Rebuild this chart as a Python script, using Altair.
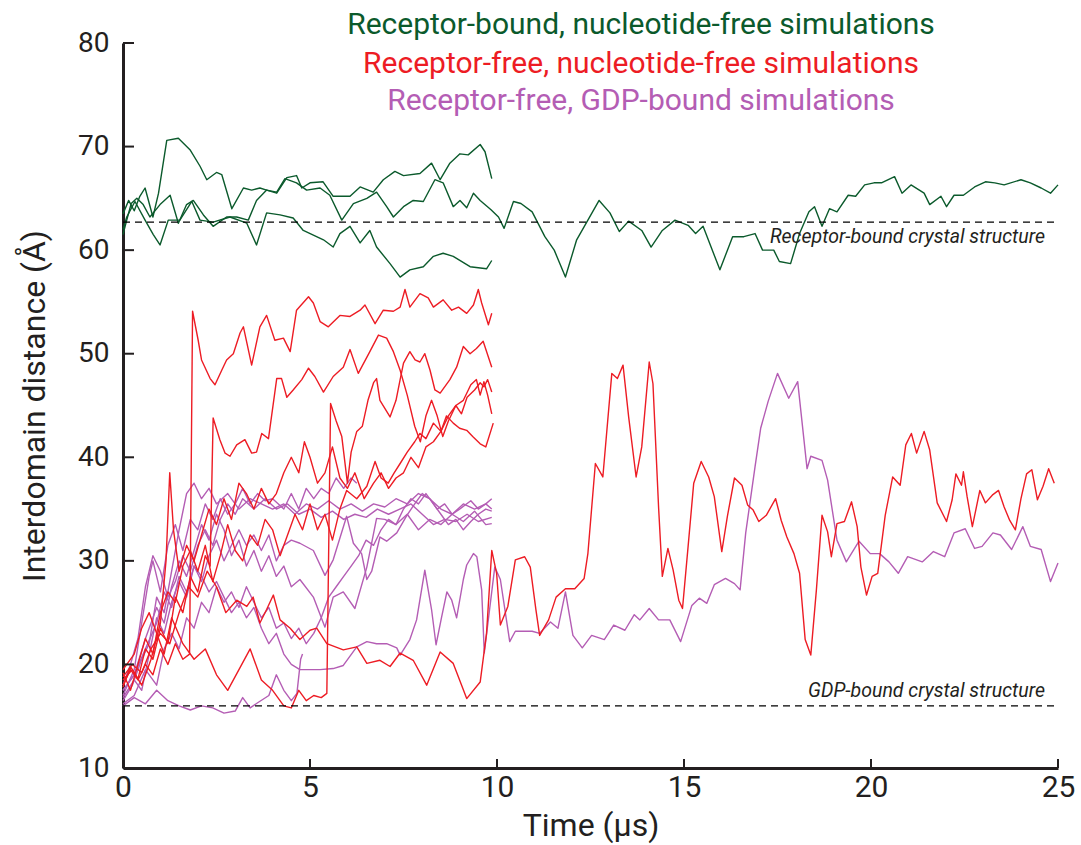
import altair as alt
import pandas as pd

# ---------------- data (time in microseconds, distance in Angstrom) ----------------
TICK_X = [0, 5, 10, 15, 20, 25]
TICK_Y = [10, 20, 30, 40, 50, 60, 70, 80]
CRYSTAL_RECEPTOR = 62.7
CRYSTAL_GDP = 16.0

GROUPS = ["Receptor-bound, nucleotide-free simulations",
          "Receptor-free, nucleotide-free simulations",
          "Receptor-free, GDP-bound simulations"]
COLORS = ["#0b5a2c", "#ed1c24", "#b45db4"]

# Receptor-bound (green)
G_PEAK = [(0, 63.5), (0.15, 64.8), (0.3, 63.8), (0.45, 65.2), (0.59, 66.0), (0.8, 63.2), (0.95, 65.5),
          (1.17, 70.6), (1.48, 70.8), (1.79, 69.7), (2.06, 68.1), (2.24, 66.8), (2.5, 67.5), (2.64, 67.3),
          (2.91, 64.0), (3.22, 66.0), (3.44, 65.8), (3.66, 66.0), (3.84, 65.8), (4.11, 65.5), (4.38, 67.0),
          (4.64, 67.2), (4.78, 66.0), (5.0, 66.5), (5.35, 66.6), (5.62, 65.2), (6.07, 65.2), (6.34, 66.1),
          (6.69, 65.6), (6.96, 66.8), (7.27, 67.6), (7.5, 67.2), (7.94, 67.4), (8.25, 68.4), (8.48, 66.8),
          (8.74, 68.4), (9.01, 69.3), (9.23, 69.2), (9.55, 70.2), (9.68, 69.5), (9.86, 66.9)]
G_LONG = [(0, 61.5), (0.1, 62.9), (0.22, 64.5), (0.37, 65.0), (0.54, 64.4), (0.72, 63.2), (0.99, 64.4),
          (1.26, 65.3), (1.48, 62.6), (1.7, 64.4), (1.88, 64.8), (2.15, 63.4), (2.41, 62.3), (2.77, 63.2),
          (3.04, 63.2), (3.35, 62.9), (3.57, 64.8), (3.84, 65.8), (4.11, 65.6), (4.33, 66.9), (4.64, 66.5),
          (4.91, 65.8), (5.27, 66.0), (5.53, 65.3), (5.85, 62.9), (6.16, 64.5), (6.52, 65.0), (6.78, 65.6),
          (7.05, 64.2), (7.23, 63.2), (7.5, 64.2), (7.76, 64.8), (8.03, 64.7), (8.34, 66.8), (8.56, 66.5),
          (8.83, 64.2), (9.01, 64.8), (9.19, 64.1), (9.37, 65.5), (9.55, 64.8), (9.84, 63.9), (10.04, 63.2),
          (10.19, 62.1), (10.44, 64.7), (10.64, 64.5), (10.94, 63.7), (11.28, 61.3), (11.53, 60.0),
          (11.83, 57.4), (12.13, 61.0), (12.43, 62.9), (12.73, 64.8), (13.02, 63.6), (13.27, 61.8),
          (13.52, 62.8), (13.87, 61.9), (14.12, 60.3), (14.42, 61.9), (14.76, 62.9), (15.11, 62.4),
          (15.31, 61.6), (15.51, 62.3), (15.96, 58.1), (16.3, 61.3), (16.6, 61.3), (16.9, 61.6),
          (17.1, 60.0), (17.4, 60.0), (17.55, 58.9), (17.85, 58.7), (18.09, 61.6), (18.34, 63.7),
          (18.49, 64.2), (18.69, 62.3), (18.89, 64.0), (19.09, 63.7), (19.39, 65.3), (19.59, 65.2),
          (19.83, 66.3), (20.08, 66.5), (20.28, 66.5), (20.63, 67.1), (20.83, 65.5), (21.07, 66.3),
          (21.42, 65.5), (21.57, 64.4), (21.87, 65.2), (22.02, 64.2), (22.22, 65.3), (22.47, 65.3),
          (22.77, 66.1), (23.06, 66.6), (23.31, 66.5), (23.56, 66.3), (24.01, 66.8), (24.26, 66.5),
          (24.55, 66.0), (24.8, 65.5), (25.0, 66.3)]
G_LOW = [(0, 62.0), (0.1, 63.2), (0.32, 64.7), (0.59, 62.9), (0.81, 61.5), (0.99, 60.5), (1.21, 62.9),
         (1.52, 62.9), (1.84, 64.7), (2.06, 62.9), (2.41, 62.7), (2.86, 63.2), (3.31, 62.6), (3.57, 60.5),
         (3.84, 63.6), (4.2, 63.4), (4.55, 63.1), (4.82, 61.9), (5.36, 61.0), (5.62, 60.3), (5.8, 61.6),
         (6.07, 62.3), (6.34, 60.7), (6.6, 61.9), (6.78, 60.3), (7.14, 58.7), (7.41, 57.4), (7.67, 58.1),
         (8.03, 58.4), (8.3, 59.4), (8.56, 59.7), (8.83, 59.4), (9.28, 58.4), (9.72, 58.2), (9.86, 59.0)]

# Receptor-free, nucleotide-free (red)
R_LONG = [(0, 18.8), (0.25, 20.0), (0.5, 19.2), (0.75, 21.5), (1.0, 23.0), (1.25, 22.0), (1.5, 25.0),
          (1.75, 27.5), (2.0, 26.5), (2.25, 29.0), (2.5, 27.5), (2.75, 25.0), (3.04, 26.2), (3.31, 25.6),
          (3.48, 26.5), (3.66, 24.0), (3.84, 25.3), (4.02, 26.7), (4.2, 24.3), (4.47, 23.5), (4.73, 22.4),
          (5.0, 23.3), (5.18, 23.5), (5.45, 22.0), (5.89, 21.4), (6.25, 21.7), (6.52, 20.1), (6.87, 20.4),
          (7.14, 19.8), (7.41, 21.1), (7.76, 20.4), (8.12, 18.0), (8.48, 21.2), (8.83, 20.1), (9.19, 16.7),
          (9.55, 18.3), (9.72, 23.0), (9.86, 31.0), (9.99, 28.8), (10.09, 23.8), (10.29, 25.6),
          (10.49, 30.1), (10.74, 30.4), (10.89, 29.4), (11.04, 25.3), (11.14, 22.8), (11.38, 24.3),
          (11.58, 26.5), (11.83, 27.3), (12.08, 27.3), (12.33, 28.3), (12.43, 30.7), (12.63, 39.4),
          (12.83, 38.1), (13.07, 48.1), (13.22, 47.6), (13.37, 48.9), (13.52, 43.9), (13.72, 38.1),
          (13.87, 41.0), (14.07, 49.2), (14.17, 47.1), (14.32, 35.2), (14.42, 28.5), (14.57, 31.2),
          (14.71, 29.1), (14.86, 26.2), (14.96, 25.4), (15.11, 31.4), (15.26, 37.5), (15.46, 39.6),
          (15.66, 38.1), (15.81, 36.2), (16.01, 30.9), (16.16, 34.3), (16.35, 38.0), (16.55, 37.3),
          (16.7, 35.4), (16.85, 34.9), (17.0, 33.8), (17.2, 34.4), (17.45, 36.0), (17.6, 33.9),
          (17.75, 32.3), (17.94, 30.7), (18.09, 28.8), (18.24, 22.4), (18.39, 20.9), (18.54, 27.2),
          (18.69, 34.4), (18.84, 32.8), (18.94, 30.4), (19.09, 33.6), (19.29, 33.8), (19.48, 35.7),
          (19.63, 33.3), (19.73, 29.4), (19.88, 26.7), (20.03, 28.5), (20.18, 28.8), (20.38, 34.4),
          (20.58, 38.1), (20.78, 37.3), (20.93, 41.2), (21.08, 42.3), (21.22, 40.4), (21.42, 42.5),
          (21.57, 40.7), (21.77, 35.6), (22.02, 33.8), (22.17, 35.9), (22.27, 38.4), (22.42, 37.3),
          (22.47, 38.6), (22.57, 36.2), (22.71, 33.3), (22.91, 36.8), (23.06, 35.6), (23.26, 36.4),
          (23.41, 36.8), (23.56, 35.2), (23.71, 33.9), (23.86, 33.0), (24.01, 36.0), (24.16, 38.4),
          (24.3, 38.8), (24.45, 35.9), (24.6, 37.2), (24.75, 38.9), (24.9, 37.5)]
R_TOP = [(0, 18.0), (0.2, 19.5), (0.4, 18.5), (0.6, 20.0), (0.8, 19.0), (1.0, 21.5), (1.2, 20.0), (1.4, 22.0),
         (1.6, 20.5), (1.78, 21.0), (1.86, 54.1), (2.01, 51.3), (2.1, 49.4), (2.33, 47.6), (2.46, 47.0),
         (2.64, 48.4), (2.77, 49.4), (2.95, 50.0), (3.13, 52.0), (3.22, 52.6), (3.44, 48.9), (3.66, 52.6),
         (3.84, 53.7), (4.06, 51.3), (4.29, 51.5), (4.47, 50.2), (4.64, 54.2), (4.96, 55.5), (5.09, 54.9),
         (5.27, 53.1), (5.49, 52.6), (5.8, 53.7), (6.07, 53.6), (6.34, 54.2), (6.47, 54.7), (6.74, 52.9),
         (6.96, 54.2), (7.23, 54.1), (7.41, 54.5), (7.54, 56.2), (7.67, 54.5), (7.94, 55.8), (8.16, 55.4),
         (8.3, 54.5), (8.56, 55.2), (8.79, 54.2), (8.97, 54.5), (9.19, 53.9), (9.37, 54.7), (9.5, 56.2),
         (9.59, 54.9), (9.77, 52.8), (9.86, 53.9)]
R_SECOND = [(0, 17.8), (0.2, 19.8), (0.4, 18.6), (0.6, 21.5), (0.8, 20.5), (1.0, 23.5), (1.2, 22.0),
            (1.4, 26.5), (1.6, 25.0), (1.8, 28.5), (2.0, 27.0), (2.2, 30.5), (2.33, 29.5), (2.41, 43.8),
            (2.59, 41.7), (2.73, 40.4), (2.86, 40.1), (3.04, 41.2), (3.26, 41.7), (3.44, 40.4), (3.57, 40.5),
            (3.71, 42.3), (3.89, 41.8), (4.11, 47.6), (4.24, 47.6), (4.38, 45.8), (4.55, 46.5), (4.78, 47.5),
            (4.96, 48.6), (5.13, 47.8), (5.36, 46.3), (5.62, 47.8), (5.89, 48.7), (6.07, 50.4), (6.29, 48.1),
            (6.6, 50.2), (6.83, 51.8), (7.05, 51.5), (7.23, 50.2), (7.41, 48.4), (7.6, 46.0), (7.8, 43.0),
            (7.95, 41.5), (8.1, 44.0), (8.25, 45.5), (8.4, 44.0), (8.55, 42.0), (8.7, 43.5), (8.9, 45.0),
            (9.05, 44.2), (9.2, 45.8), (9.4, 46.5), (9.55, 47.2), (9.65, 46.8), (9.75, 47.5), (9.86, 46.3)]
R_JUMP = [(0, 19.5), (0.3, 21.0), (0.5, 23.5), (0.7, 25.0), (0.9, 23.0), (1.1, 21.0), (1.3, 24.5), (1.6, 22.0),
          (1.9, 20.5), (2.2, 21.5), (2.5, 19.0), (2.8, 17.5), (3.1, 19.5), (3.4, 21.5), (3.7, 18.5), (4.0, 17.5),
          (4.3, 16.0), (4.5, 15.8), (4.7, 17.5), (4.9, 16.5), (5.1, 17.0), (5.3, 16.8), (5.45, 17.2),
          (5.55, 45.2), (5.7, 43.5), (5.85, 42.0), (6.0, 37.5), (6.1, 40.5), (6.25, 42.5), (6.4, 43.0),
          (6.55, 45.5), (6.7, 47.2), (6.78, 47.6), (6.87, 45.5), (7.14, 43.9), (7.3, 45.5), (7.41, 47.5),
          (7.5, 49.1), (7.67, 50.2), (7.81, 49.4), (7.94, 49.2), (8.07, 50.0), (8.21, 48.4), (8.34, 46.5),
          (8.48, 46.2), (8.74, 47.5), (8.92, 48.7), (9.1, 50.7), (9.28, 50.0), (9.45, 50.5), (9.63, 51.2),
          (9.86, 48.7)]
R_MID = [(0, 18.5), (0.25, 19.5), (0.5, 18.0), (0.75, 20.5), (1.0, 24.0), (1.15, 30.0), (1.25, 38.5),
         (1.35, 33.0), (1.5, 29.0), (1.7, 31.5), (1.9, 30.0), (2.1, 32.5), (2.3, 35.0), (2.5, 33.5), (2.7, 36.0),
         (2.9, 34.0), (3.1, 37.5), (3.3, 36.5), (3.5, 35.0), (3.7, 37.0), (3.9, 35.5), (4.1, 36.5), (4.3, 38.5),
         (4.5, 40.0), (4.7, 38.5), (4.85, 41.5), (5.0, 40.0), (5.2, 37.5), (5.4, 38.5), (5.6, 41.0), (5.8, 38.0),
         (6.0, 37.0), (6.2, 38.5), (6.45, 36.0), (6.7, 37.5), (6.9, 38.5), (7.1, 37.0), (7.3, 38.0), (7.5, 38.5),
         (7.7, 40.0), (7.9, 39.0), (8.1, 41.0), (8.3, 41.5), (8.5, 42.5), (8.7, 44.0), (8.9, 45.0), (9.1, 45.5),
         (9.3, 47.0), (9.45, 47.5), (9.55, 46.0), (9.65, 47.3), (9.75, 46.0), (9.86, 44.2)]
R_LOWER = [(0, 19.2), (0.2, 17.5), (0.4, 20.0), (0.6, 22.5), (0.8, 21.0), (1.0, 25.0), (1.2, 27.0), (1.4, 26.0),
           (1.6, 29.5), (1.8, 31.0), (2.0, 29.0), (2.2, 31.5), (2.4, 28.0), (2.6, 30.5), (2.8, 33.5), (3.0, 31.0),
           (3.2, 30.0), (3.4, 32.5), (3.6, 31.5), (3.8, 34.0), (4.0, 33.0), (4.2, 30.5), (4.4, 32.5), (4.6, 34.5),
           (4.8, 33.0), (5.0, 35.5), (5.2, 33.0), (5.4, 34.5), (5.6, 32.0), (5.8, 35.0), (5.98, 36.8),
           (6.25, 36.0), (6.52, 37.2), (6.74, 39.6), (6.9, 38.0), (7.09, 37.5), (7.25, 38.5), (7.41, 39.4),
           (7.6, 40.5), (7.8, 41.5), (7.94, 42.3), (8.1, 41.8), (8.3, 43.3), (8.5, 42.5), (8.65, 44.0),
           (8.83, 43.3), (9.0, 42.8), (9.19, 42.6), (9.35, 42.0), (9.55, 41.3), (9.7, 41.0), (9.9, 43.3)]

# Receptor-free, GDP-bound (purple)
P_LONG = [(0, 17.5), (0.3, 19.0), (0.6, 21.5), (0.9, 24.0), (1.1, 27.0), (1.3, 25.5), (1.5, 28.5), (1.7, 27.0),
          (1.9, 29.5), (2.1, 28.5), (2.3, 27.0), (2.5, 28.0), (2.7, 26.5), (2.9, 25.0), (3.1, 26.0), (3.3, 24.5),
          (3.5, 25.5), (3.7, 23.5), (3.9, 22.0), (4.1, 23.0), (4.3, 21.0), (4.5, 20.0), (4.73, 19.5),
          (5.27, 19.5), (5.62, 19.6), (5.89, 19.9), (6.07, 20.8), (6.25, 21.7), (6.52, 22.2), (6.78, 22.0),
          (7.05, 22.0), (7.32, 21.6), (7.41, 20.9), (7.67, 22.4), (7.85, 24.3), (8.07, 29.1), (8.25, 25.3),
          (8.37, 21.9), (8.52, 24.6), (8.66, 27.0), (8.79, 26.2), (8.92, 24.5), (9.1, 28.2), (9.19, 29.6),
          (9.37, 30.7), (9.46, 30.4), (9.59, 27.2), (9.66, 21.1), (9.94, 29.4), (10.09, 28.2), (10.34, 22.2),
          (10.49, 23.2), (10.94, 23.2), (11.14, 23.0), (11.43, 24.1), (11.63, 23.5), (11.83, 27.0),
          (12.03, 22.8), (12.28, 21.6), (12.53, 22.8), (12.87, 22.4), (13.12, 23.8), (13.42, 23.3),
          (13.67, 24.8), (13.82, 24.3), (14.07, 25.4), (14.32, 24.3), (14.62, 24.3), (14.91, 22.2),
          (15.21, 25.7), (15.41, 26.4), (15.61, 25.9), (15.81, 27.7), (16.11, 28.3), (16.35, 27.8),
          (16.5, 27.2), (16.65, 32.7), (16.9, 39.1), (17.05, 42.8), (17.25, 45.4), (17.5, 48.1), (17.8, 45.7),
          (18.04, 47.3), (18.29, 38.9), (18.39, 40.1), (18.69, 39.7), (18.84, 37.8), (19.09, 32.0),
          (19.34, 29.9), (19.68, 31.9), (19.98, 30.7), (20.23, 30.7), (20.48, 29.9), (20.73, 28.8),
          (20.98, 30.4), (21.37, 29.9), (21.67, 30.9), (21.97, 30.4), (22.22, 32.7), (22.52, 33.1),
          (22.77, 31.2), (22.97, 31.4), (23.26, 32.7), (23.46, 32.5), (23.76, 31.1), (24.06, 33.3),
          (24.26, 31.4), (24.55, 31.1), (24.8, 28.0), (25.0, 29.8)]
P_FLAT = [(0, 16.0), (0.3, 16.8), (0.6, 16.2), (0.9, 17.5), (1.2, 16.5), (1.5, 16.0), (1.8, 15.6), (2.1, 16.0),
          (2.4, 15.8), (2.7, 15.3), (3.0, 15.5), (3.2, 16.8), (3.4, 15.8), (3.6, 16.3), (3.9, 17.0), (4.1, 19.0),
          (4.3, 17.5), (4.5, 16.5), (4.65, 17.2), (4.75, 20.5), (4.8, 21.0)]
P_SHORT = [(0, 17.0), (0.3, 19.5), (0.5, 24.0), (0.7, 28.5), (0.8, 30.0), (1.0, 27.0), (1.2, 31.5), (1.4, 33.5),
           (1.6, 31.0), (1.8, 34.0), (2.0, 33.0), (2.2, 35.5), (2.4, 34.0), (2.6, 36.0), (2.8, 34.5), (3.0, 35.5),
           (3.2, 37.0), (3.4, 35.5), (3.6, 36.5), (3.8, 35.8), (4.0, 36.0), (4.3, 35.0), (4.5, 36.5), (4.7, 35.0),
           (4.9, 37.0), (5.1, 36.0), (5.3, 37.0), (5.5, 36.5), (5.7, 38.0), (5.9, 37.0), (6.1, 38.0), (6.25, 37.5)]
P_A = [(0, 16.5), (0.25, 18.0), (0.5, 20.5), (0.7, 22.0), (0.9, 26.5), (1.1, 25.0), (1.3, 29.0), (1.5, 33.0),
       (1.7, 36.5), (1.9, 37.5), (2.1, 36.0), (2.3, 37.0), (2.5, 35.5), (2.8, 36.5), (3.1, 35.0), (3.4, 36.0),
       (3.7, 35.5), (4.0, 35.0), (4.3, 35.5), (4.6, 34.5), (4.9, 35.5), (5.2, 35.0), (5.5, 35.8), (5.8, 35.0),
       (6.1, 35.5), (6.4, 34.8), (6.7, 35.5), (7.0, 35.2), (7.3, 36.0), (7.6, 35.5), (7.9, 36.5), (8.2, 36.0),
       (8.5, 35.0), (8.8, 34.5), (9.1, 35.5), (9.4, 35.0), (9.7, 35.5), (9.86, 36.0)]
P_B = [(0, 18.0), (0.2, 20.0), (0.4, 22.5), (0.6, 27.5), (0.8, 30.5), (1.0, 29.0), (1.2, 26.5), (1.4, 28.0),
       (1.6, 30.5), (1.8, 29.0), (2.0, 31.5), (2.2, 33.0), (2.4, 31.5), (2.6, 34.0), (2.8, 35.5), (3.0, 34.5),
       (3.2, 36.0), (3.5, 35.0), (3.8, 36.0), (4.1, 35.0), (4.4, 35.5), (4.7, 34.5), (5.0, 35.0), (5.3, 34.2),
       (5.6, 34.8), (5.9, 34.0), (6.2, 34.5), (6.5, 34.2), (6.8, 35.0), (7.1, 34.5), (7.4, 35.0), (7.7, 35.5),
       (8.0, 34.5), (8.3, 33.5), (8.6, 34.0), (8.9, 33.8), (9.2, 34.5), (9.5, 33.8), (9.86, 34.2)]
P_C = [(0, 17.5), (0.3, 19.0), (0.6, 22.5), (0.9, 25.5), (1.1, 24.0), (1.3, 27.5), (1.5, 30.0), (1.7, 28.5),
       (1.9, 31.0), (2.1, 33.5), (2.3, 32.0), (2.5, 34.5), (2.7, 33.0), (2.9, 30.5), (3.1, 32.0), (3.3, 29.5),
       (3.5, 31.0), (3.7, 29.0), (3.9, 30.5), (4.1, 28.5), (4.3, 29.5), (4.5, 27.5), (4.73, 28.2), (5.09, 26.5),
       (5.4, 23.6), (5.62, 26.5), (5.89, 27.0), (6.2, 25.4), (6.52, 29.4), (6.78, 34.1), (7.0, 34.0),
       (7.3, 33.5), (7.6, 34.5), (7.9, 33.0), (8.2, 34.0), (8.5, 33.5), (8.8, 34.5), (9.1, 33.8), (9.4, 34.8),
       (9.7, 33.5), (9.86, 33.6)]
P_D = [(0, 16.8), (0.3, 18.5), (0.5, 17.5), (0.7, 21.0), (0.9, 24.5), (1.1, 23.0), (1.3, 26.0), (1.5, 28.0),
       (1.7, 26.5), (1.9, 29.5), (2.1, 28.0), (2.3, 30.5), (2.5, 32.0), (2.7, 30.0), (2.9, 31.5), (3.1, 33.0),
       (3.3, 31.5), (3.5, 32.5), (3.7, 31.0), (3.9, 32.5), (4.1, 30.0), (4.3, 31.5), (4.5, 32.0), (4.73, 31.7),
       (5.09, 31.0), (5.4, 28.6), (5.62, 30.1), (5.98, 34.3), (6.16, 31.7), (6.38, 30.7), (6.52, 28.2),
       (6.65, 29.0), (6.87, 32.3), (7.05, 31.9), (7.32, 32.7), (7.59, 34.4), (7.8, 35.5), (8.0, 36.5),
       (8.2, 36.0), (8.4, 35.0), (8.6, 35.5), (8.8, 34.5), (9.0, 35.0), (9.3, 35.8), (9.5, 35.0), (9.7, 35.5),
       (9.86, 35.0)]
P_E = [(0, 16.2), (0.3, 17.0), (0.6, 19.5), (0.9, 18.0), (1.1, 21.5), (1.3, 23.0), (1.5, 21.5), (1.7, 24.5),
       (1.9, 23.5), (2.1, 26.0), (2.3, 25.0), (2.5, 27.5), (2.7, 26.0), (2.9, 27.0), (3.1, 25.5), (3.3, 27.5),
       (3.5, 26.0), (3.7, 24.5), (3.9, 25.5), (4.1, 23.5), (4.3, 24.0), (4.5, 22.5), (4.7, 23.5), (4.9, 22.0),
       (5.1, 23.0), (5.3, 24.5), (5.5, 26.5), (5.7, 27.5), (5.9, 28.5), (6.1, 29.5), (6.3, 30.5), (6.5, 32.0),
       (6.7, 31.5), (6.9, 33.0), (7.1, 34.0), (7.3, 33.5), (7.5, 35.0), (7.7, 36.0), (7.9, 35.5), (8.1, 36.5),
       (8.3, 35.5), (8.5, 34.5), (8.7, 33.5), (8.9, 34.0), (9.1, 33.0), (9.3, 33.8), (9.5, 34.5), (9.7, 35.0),
       (9.86, 34.8)]

SERIES = {
    "P_LONG": (2, P_LONG), "P_FLAT": (2, P_FLAT), "P_SHORT": (2, P_SHORT), "P_A": (2, P_A),
    "P_B": (2, P_B), "P_C": (2, P_C), "P_D": (2, P_D), "P_E": (2, P_E),
    "R_LONG": (1, R_LONG), "R_TOP": (1, R_TOP), "R_SECOND": (1, R_SECOND), "R_JUMP": (1, R_JUMP),
    "R_MID": (1, R_MID), "R_LOWER": (1, R_LOWER),
    "G_PEAK": (0, G_PEAK), "G_LONG": (0, G_LONG), "G_LOW": (0, G_LOW),
}

rows = []
for name, (gi, pts) in SERIES.items():
    for t, v in pts:
        rows.append({"series": name, "group": GROUPS[gi], "t": t, "v": v})
df = pd.DataFrame(rows)

W, H = 935, 725
FONT = "Roboto"
INK = "#231f20"

xs = alt.Scale(domain=[0, 25], nice=False, zero=False)
ys = alt.Scale(domain=[10, 80], nice=False, zero=False)
cs = alt.Scale(domain=GROUPS, range=COLORS)

x_axis = alt.Axis(values=TICK_X, title="Time (µs)", ticks=False, grid=False,
                  labelFontSize=30, titleFontSize=32, labelPadding=4, titlePadding=8,
                  labelFlush=False, labelOverlap=False, titleFontWeight="normal",
                  domainColor=INK, domainWidth=3, labelColor=INK, titleColor=INK,
                  labelFont=FONT, titleFont=FONT)
y_axis = alt.Axis(values=TICK_Y, title="Interdomain distance (Å)", ticks=False, grid=False,
                  labelFontSize=28, titleFontSize=32, labelPadding=14, titlePadding=26,
                  labelFlush=False, labelOverlap=False, titleFontWeight="normal",
                  domainColor=INK, domainWidth=3, labelColor=INK, titleColor=INK,
                  labelFont=FONT, titleFont=FONT)


def lines_for(gi):
    sub = df[df["group"] == GROUPS[gi]]
    return alt.Chart(sub).mark_line(strokeWidth=1.4, strokeJoin="round").encode(
        x=alt.X("t:Q", scale=xs, axis=x_axis),
        y=alt.Y("v:Q", scale=ys, axis=y_axis),
        color=alt.Color("group:N", scale=cs, legend=None),
        detail="series:N",
    )


ref = pd.DataFrame({"v": [CRYSTAL_RECEPTOR, CRYSTAL_GDP]})
ref_lines = alt.Chart(ref).mark_rule(color="#000000", strokeWidth=1.2, strokeDash=[7, 5]).encode(
    y=alt.Y("v:Q", scale=ys), x=alt.value(0), x2=alt.value(W))

ref_text = alt.Chart(pd.DataFrame({
    "t": [24.65, 24.65], "v": [61.3, 17.4],
    "label": ["Receptor-bound crystal structure", "GDP-bound crystal structure"]})
).mark_text(align="right", baseline="middle", fontStyle="italic", font=FONT, fontSize=19.5, color=INK).encode(
    x=alt.X("t:Q", scale=xs), y=alt.Y("v:Q", scale=ys), text="label:N")

xt = alt.Chart(pd.DataFrame({"t": TICK_X})).mark_rule(color=INK, strokeWidth=2).encode(
    x=alt.X("t:Q", scale=xs), y=alt.value(H), y2=alt.value(H - 9))
yt = alt.Chart(pd.DataFrame({"v": TICK_Y})).mark_rule(color=INK, strokeWidth=2).encode(
    y=alt.Y("v:Q", scale=ys), x=alt.value(0), x2=alt.value(11))

titles = alt.Chart(pd.DataFrame({
    "label": GROUPS, "yy": [-18, 21, 58]})
).mark_text(align="center", baseline="middle", font=FONT, fontSize=30).encode(
    x=alt.value(518), y=alt.Y("yy:Q", scale=None), text="label:N",
    color=alt.Color("label:N", scale=cs, legend=None))

chart = alt.layer(
    lines_for(2), lines_for(1), lines_for(0), ref_lines, ref_text, xt, yt, titles
).properties(
    width=W, height=H,
    autosize=alt.AutoSizeParams(type="none"),
    padding={"left": 123, "top": 43, "right": 23, "bottom": 77},
    background="white",
).configure_view(stroke=None)

chart.save("out.html", embed_options={"renderer": "svg", "actions": False})
